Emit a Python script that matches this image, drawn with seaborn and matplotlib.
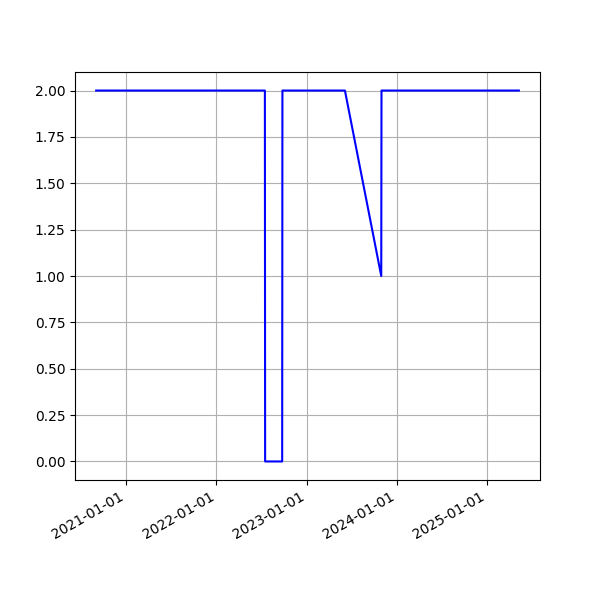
import matplotlib
matplotlib.use("Agg")
import matplotlib.pyplot as plt
import matplotlib.dates as mdates
import seaborn as sns
import pandas as pd

dates = ["2020-09-01", "2022-07-16", "2022-07-17", "2022-09-24", "2022-09-25",
         "2023-06-05", "2023-10-30", "2023-10-31", "2025-05-09"]
values = [2, 2, 0, 0, 2, 2, 1, 2, 2]

df = pd.DataFrame({"date": pd.to_datetime(dates), "value": values})

fig, ax = plt.subplots(figsize=(6, 6), dpi=100)
sns.lineplot(data=df, x="date", y="value", ax=ax, color="blue",
             estimator=None, sort=False, linewidth=1.5)
ax.set_xlabel("")
ax.set_ylabel("")
ax.xaxis.set_major_locator(mdates.YearLocator())
ax.xaxis.set_major_formatter(mdates.DateFormatter("%Y-%m-%d"))
ax.yaxis.set_major_formatter(matplotlib.ticker.FormatStrFormatter("%.2f"))
ax.grid(True)
fig.autofmt_xdate()
fig.savefig("out.png", dpi=100)
